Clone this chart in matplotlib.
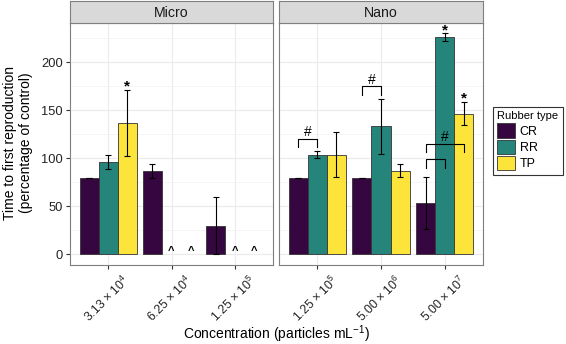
import numpy as np
import matplotlib
matplotlib.use("Agg")
import matplotlib.pyplot as plt
import matplotlib.patches as mpatches
from matplotlib.transforms import ScaledTranslation

plt.rcParams['font.family'] = ['Liberation Sans', 'DejaVu Sans']
plt.rcParams['mathtext.fontset'] = 'custom'
plt.rcParams['mathtext.rm'] = 'Liberation Sans'
plt.rcParams['mathtext.it'] = 'Liberation Sans:italic'

types = ["CR", "RR", "TP"]
colors = ["#35063f", "#26857b", "#fce43a"]

# Micro panel
micro_labels = [r"3.13 × 10$^{4}$", r"6.25 × 10$^{4}$", r"1.25 × 10$^{5}$"]
micro_mean = [[80, 87, 30], [96.5, np.nan, np.nan], [137, np.nan, np.nan]]
micro_lo = [[80, 80, 0], [89, np.nan, np.nan], [102, np.nan, np.nan]]
micro_hi = [[80, 94, 60], [104, np.nan, np.nan], [171.5, np.nan, np.nan]]

# Nano panel
nano_labels = [r"1.25 × 10$^{5}$", r"5.00 × 10$^{6}$", r"5.00 × 10$^{7}$"]
nano_mean = [[80, 80, 53.5], [104, 133.5, 226.5], [104, 87, 146.5]]
nano_lo = [[80, 80, 26.5], [100, 105, 222.5], [80.5, 80.5, 135]]
nano_hi = [[80, 80, 80.5], [108, 161.5, 230.5], [127, 94, 159]]

# significance marks: (group, bar) -> star
micro_stars = [(0, 2)]
nano_stars = [(2, 1), (2, 2)]
# brackets: (group, bar_from, bar_to, height)
nano_brackets = [(0, 0, 1, 120), (1, 0, 1, 175), (2, 0, 1, 99), (2, 0, 2, 115)]
nano_hash = [(0, 0, 1, 120), (1, 0, 1, 175), (2, 0, 2, 115)]

W, H = 566, 344
fig = plt.figure(figsize=(5.66, 3.44), dpi=100)


def px(x0, y0, x1, y1):
    return [x0 / W, 1 - y1 / H, (x1 - x0) / W, (y1 - y0) / H]


def draw_panel(rect, title, labels, mean, lo, hi, stars, brackets, hashes, left):
    ax = fig.add_axes(px(*rect))
    ax.set_xlim(0.4, 3.6)
    ax.set_ylim(-11, 241)
    ax.set_yticks([0, 50, 100, 150, 200])
    ax.set_yticks([25, 75, 125, 175, 225], minor=True)
    ax.set_xticks([1, 2, 3])
    ax.grid(True, which='major', color='#ebebeb', lw=0.8)
    ax.grid(True, which='minor', axis='y', color='#f2f2f2', lw=0.5)
    ax.set_axisbelow(True)
    for s in ax.spines.values():
        s.set_color('#7f7f7f')
        s.set_linewidth(0.8)
    ax.tick_params(which='minor', length=0)
    ax.tick_params(which='major', length=3, color='#333333', labelsize=9.3, pad=2)
    if left:
        ax.set_yticklabels(['0', '50', '100', '150', '200'], color='#222222')
    else:
        ax.tick_params(axis='y', length=0, labelleft=False)
    ax.set_xticklabels(labels, rotation=45, ha='right', va='top',
                       rotation_mode='anchor', color='#222222', fontsize=8.8)
    shift = ScaledTranslation(14 / 100, -1 / 100, fig.dpi_scale_trans)
    for lab in ax.get_xticklabels():
        lab.set_transform(lab.get_transform() + shift)
    offs = [-0.3, 0, 0.3]
    for j in range(3):
        x = np.arange(1, 4) + offs[j]
        m = np.array(mean[j], dtype=float)
        l = np.array(lo[j], dtype=float)
        h = np.array(hi[j], dtype=float)
        ok = ~np.isnan(m)
        ax.bar(x[ok], m[ok], width=0.3, color=colors[j], edgecolor='#333333', lw=0.6, zorder=2)
        ax.errorbar(x[ok], m[ok], yerr=[m[ok] - l[ok], h[ok] - m[ok]], fmt='none',
                    ecolor='black', elinewidth=0.8, capsize=2, capthick=0.8, zorder=3)
        for xi in x[~ok]:
            ax.text(xi, -2, '^', ha='center', va='bottom', fontsize=8, fontweight='bold')
    for g, b in stars:
        x = g + 1 + offs[b]
        y = hi[b][g]
        ax.text(x, y - 1, '*', ha='center', va='baseline', fontsize=11, fontweight='bold',
                clip_on=False)
    for g, b0, b1, y in brackets:
        x0 = g + 1 + offs[b0]
        x1 = g + 1 + offs[b1]
        ax.plot([x0, x0, x1, x1], [y - 8.5, y, y, y - 8.5], color='black', lw=0.8, zorder=4)
    for g, b0, b1, y in hashes:
        xc = g + 1 + (offs[b0] + offs[b1]) / 2
        ax.text(xc, y + 3, '#', ha='center', va='baseline', fontsize=10)
    # strip
    sx = fig.add_axes(px(rect[0], 1, rect[2], rect[1]))
    sx.set_xticks([])
    sx.set_yticks([])
    sx.set_facecolor('#d9d9d9')
    for s in sx.spines.values():
        s.set_color('#7f7f7f')
        s.set_linewidth(0.8)
    sx.text(0.5, 0.45, title, ha='center', va='center', fontsize=10.2, color='#1a1a1a',
            transform=sx.transAxes)
    return ax


ax1 = draw_panel((70, 23, 273, 265), "Micro", micro_labels, micro_mean, micro_lo, micro_hi,
                 micro_stars, [], [], True)
ax2 = draw_panel((279, 23, 483, 265), "Nano", nano_labels, nano_mean, nano_lo, nano_hi,
                 nano_stars, nano_brackets, nano_hash, False)

fig.text(0.5 * (70 + 483) / W, 1 - 339 / H, r"Concentration (particles mL$^{-1}$)",
         ha='center', va='baseline', fontsize=10)
fig.text(18 / W, 1 - 143 / H, "Time to first reproduction\n(percentage of control)",
         ha='center', va='center', rotation=90, fontsize=10, linespacing=1.15)

handles = [mpatches.Patch(facecolor=c, edgecolor='#333333', lw=0.6, label=t)
           for c, t in zip(colors, types)]
leg = fig.legend(handles=handles, title="Rubber type", loc='upper left',
                 bbox_to_anchor=(493 / W, 1 - 107 / H), fontsize=9, title_fontsize=8,
                 fancybox=False, edgecolor='#333333', framealpha=1,
                 handlelength=1.4, handleheight=1.4, labelspacing=0.15,
                 handletextpad=0.4, borderpad=0.35, borderaxespad=0, alignment='left')
leg.get_frame().set_linewidth(0.8)

fig.savefig("out.png", dpi=100)
